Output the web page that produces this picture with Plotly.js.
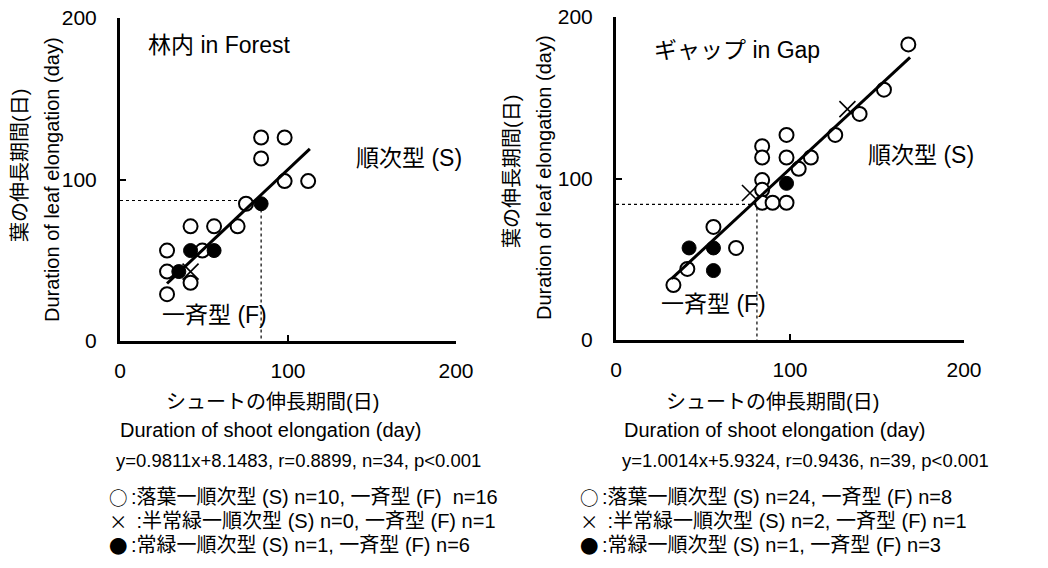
<!DOCTYPE html>
<html>
<head>
<meta charset="utf-8">
<script src="https://cdn.plot.ly/plotly-3.0.1.min.js"></script>
<style>html,body{margin:0;padding:0;background:#fff;}#chart{width:1048px;height:568px;}</style>
</head>
<body>
<div id="chart"></div>
<script>
// ---- Forest (林内) ----
const forestOpenX = [84, 98, 84, 98, 112, 75, 42, 56, 70, 28, 49, 28, 42, 28];
const forestOpenY = [126, 126, 113, 99, 99, 85, 71, 71, 71, 56, 56, 43, 36, 29];
const forestFilledX = [84, 42, 56, 35];
const forestFilledY = [85, 56, 56, 43];
const forestCrossX = [42];
const forestCrossY = [43];
const forestLineX = [28, 113];
const forestLineY = [35.6, 119];
const forestRefX = [0, 84, 84];
const forestRefY = [87, 87, 0];

// ---- Gap (ギャップ) ----
const gapOpenX = [168, 154, 140, 126, 112, 105, 98, 98, 84, 84, 84, 84, 84, 90, 98, 56, 69, 41, 33];
const gapOpenY = [183, 155, 140, 127, 113, 106, 127, 113, 120, 113, 99, 93, 85, 85, 85, 70, 57, 44, 34];
const gapFilledX = [98, 42, 56, 56];
const gapFilledY = [97, 57, 57, 43];
const gapCrossX = [77, 133];
const gapCrossY = [91, 143];
const gapLineX = [32, 169];
const gapLineY = [38, 175];
const gapRefX = [0, 81, 81];
const gapRefY = [84, 84, 0];

const tickVals = [0, 100, 200];
const tickText = ['0', '100', '200'];

// legend texts (symbol + description)
const legendSymbols = ['○', '×', '●'];
const forestLegend = [':落葉一順次型 (S) n=10, 一斉型 (F)  n=16', ' :半常緑一順次型 (S) n=0, 一斉型 (F) n=1', ':常緑一順次型 (S) n=1, 一斉型 (F) n=6'];
const gapLegend = [':落葉一順次型 (S) n=24, 一斉型 (F) n=8', ' :半常緑一順次型 (S) n=2, 一斉型 (F) n=1', ':常緑一順次型 (S) n=1, 一斉型 (F) n=3'];

const FONT = 'Liberation Sans, Arial, Noto Sans CJK JP, sans-serif';
const CJK = 'Noto Sans CJK JP, sans-serif';
const W = 1048, H = 568;
const px = v => v / W;
const py = v => 1 - v / H;

function group(xa, ya, oX, oY, fX, fY, cX, cY, lX, lY, rX, rY) {
  return [
    {x: rX, y: rY, xaxis: xa, yaxis: ya, mode: 'lines', line: {color: '#000', width: 1.2, dash: 'dot'}, hoverinfo: 'skip'},
    {x: cX, y: cY, xaxis: xa, yaxis: ya, mode: 'markers', marker: {symbol: 'x-thin-open', size: 16, color: '#000', line: {color: '#000', width: 1.6}}},
    {x: oX, y: oY, xaxis: xa, yaxis: ya, mode: 'markers', marker: {symbol: 'circle', size: 14, color: '#fff', line: {color: '#000', width: 2}}},
    {x: lX, y: lY, xaxis: xa, yaxis: ya, mode: 'lines', line: {color: '#000', width: 3}},
    {x: fX, y: fY, xaxis: xa, yaxis: ya, mode: 'markers', marker: {symbol: 'circle', size: 14, color: '#000', line: {color: '#000', width: 1}}}
  ];
}

const data = [].concat(
  group('x', 'y', forestOpenX, forestOpenY, forestFilledX, forestFilledY, forestCrossX, forestCrossY, forestLineX, forestLineY, forestRefX, forestRefY),
  group('x2', 'y2', gapOpenX, gapOpenY, gapFilledX, gapFilledY, gapCrossX, gapCrossY, gapLineX, gapLineY, gapRefX, gapRefY)
);

function xAxis(domain, anchor) {
  return {domain: domain, anchor: anchor, range: [0, 200], showgrid: false, zeroline: false,
    showline: true, linecolor: '#000', linewidth: 3, ticks: 'inside', ticklen: 6, tickwidth: 2, tickcolor: '#000',
    tickvals: tickVals, ticktext: tickText, ticklabelstandoff: 9, tickfont: {family: FONT, size: 21, color: '#000'}};
}
function yAxis(domain, anchor) {
  return {domain: domain, anchor: anchor, range: [0, 200], showgrid: false, zeroline: false,
    showline: true, linecolor: '#000', linewidth: 3, ticks: 'inside', ticklen: 6, tickwidth: 2, tickcolor: '#000',
    tickvals: tickVals, ticktext: tickText, ticklabelstandoff: 16, tickfont: {family: FONT, size: 21, color: '#000'}};
}

function ann(text, x, y, size, xanchor, angle, family) {
  return {text: text, xref: 'paper', yref: 'paper', x: px(x), y: py(y), xanchor: xanchor || 'center', yanchor: 'middle',
    showarrow: false, textangle: angle || 0, font: {family: family || FONT, size: size, color: '#000'}};
}

const legendRows = [497, 521, 545];
const annotations = [
  // Forest panel
  ann('林内 in Forest', 146, 45, 23, 'left'),
  ann('順次型 (S)', 354, 158, 23, 'left'),
  ann('一斉型 (F)', 160, 315, 23, 'left'),
  ann('葉の伸長期間(日)', 20, 166, 20, 'center', -90),
  ann('Duration of leaf elongation (day)', 52, 180, 20, 'center', -90),
  ann('シュートの伸長期間(日)', 272, 402, 20, 'center'),
  ann('Duration of shoot elongation (day)', 270, 430, 20, 'center'),
  ann('y=0.9811x+8.1483, r=0.8899, n=34, p<0.001', 114, 460, 18.5, 'left'),
  // Gap panel
  ann('ギャップ in Gap', 652, 50, 23, 'left'),
  ann('順次型 (S)', 866, 155, 23, 'left'),
  ann('一斉型 (F)', 659, 304, 23, 'left'),
  ann('葉の伸長期間(日)', 512, 172, 20, 'center', -90),
  ann('Duration of leaf elongation (day)', 544, 178, 20, 'center', -90),
  ann('シュートの伸長期間(日)', 772, 402, 20, 'center'),
  ann('Duration of shoot elongation (day)', 774, 430, 20, 'center'),
  ann('y=1.0014x+5.9324, r=0.9436, n=39, p<0.001', 620, 460, 18.5, 'left')
];
// symbol column: one multi-line text per panel (line spacing 1.3 x 18.5 = 24 px)
const symbolColumn = legendSymbols.join('<br>');
annotations.push(ann(symbolColumn, 118, legendRows[1], 18.5, 'center', 0, CJK));
annotations.push(ann(symbolColumn, 589, legendRows[1], 18.5, 'center', 0, CJK));
legendRows.forEach((row, i) => {
  annotations.push(ann(forestLegend[i], 129, row, 20, 'left'));
  annotations.push(ann(gapLegend[i], 600, row, 20, 'left'));
});

const layout = {
  width: W, height: H,
  margin: {l: 0, r: 0, t: 0, b: 0},
  paper_bgcolor: '#fff', plot_bgcolor: 'rgba(0,0,0,0)',
  showlegend: false,
  font: {family: FONT, color: '#000'},
  xaxis: xAxis([px(120), px(456)], 'y'),
  yaxis: yAxis([py(341), py(18)], 'x'),
  xaxis2: xAxis([px(616), px(964)], 'y2'),
  yaxis2: yAxis([py(340), py(17)], 'x2'),
  annotations: annotations
};

Plotly.newPlot('chart', data, layout, {displayModeBar: false, staticPlot: true});
</script>
</body>
</html>
